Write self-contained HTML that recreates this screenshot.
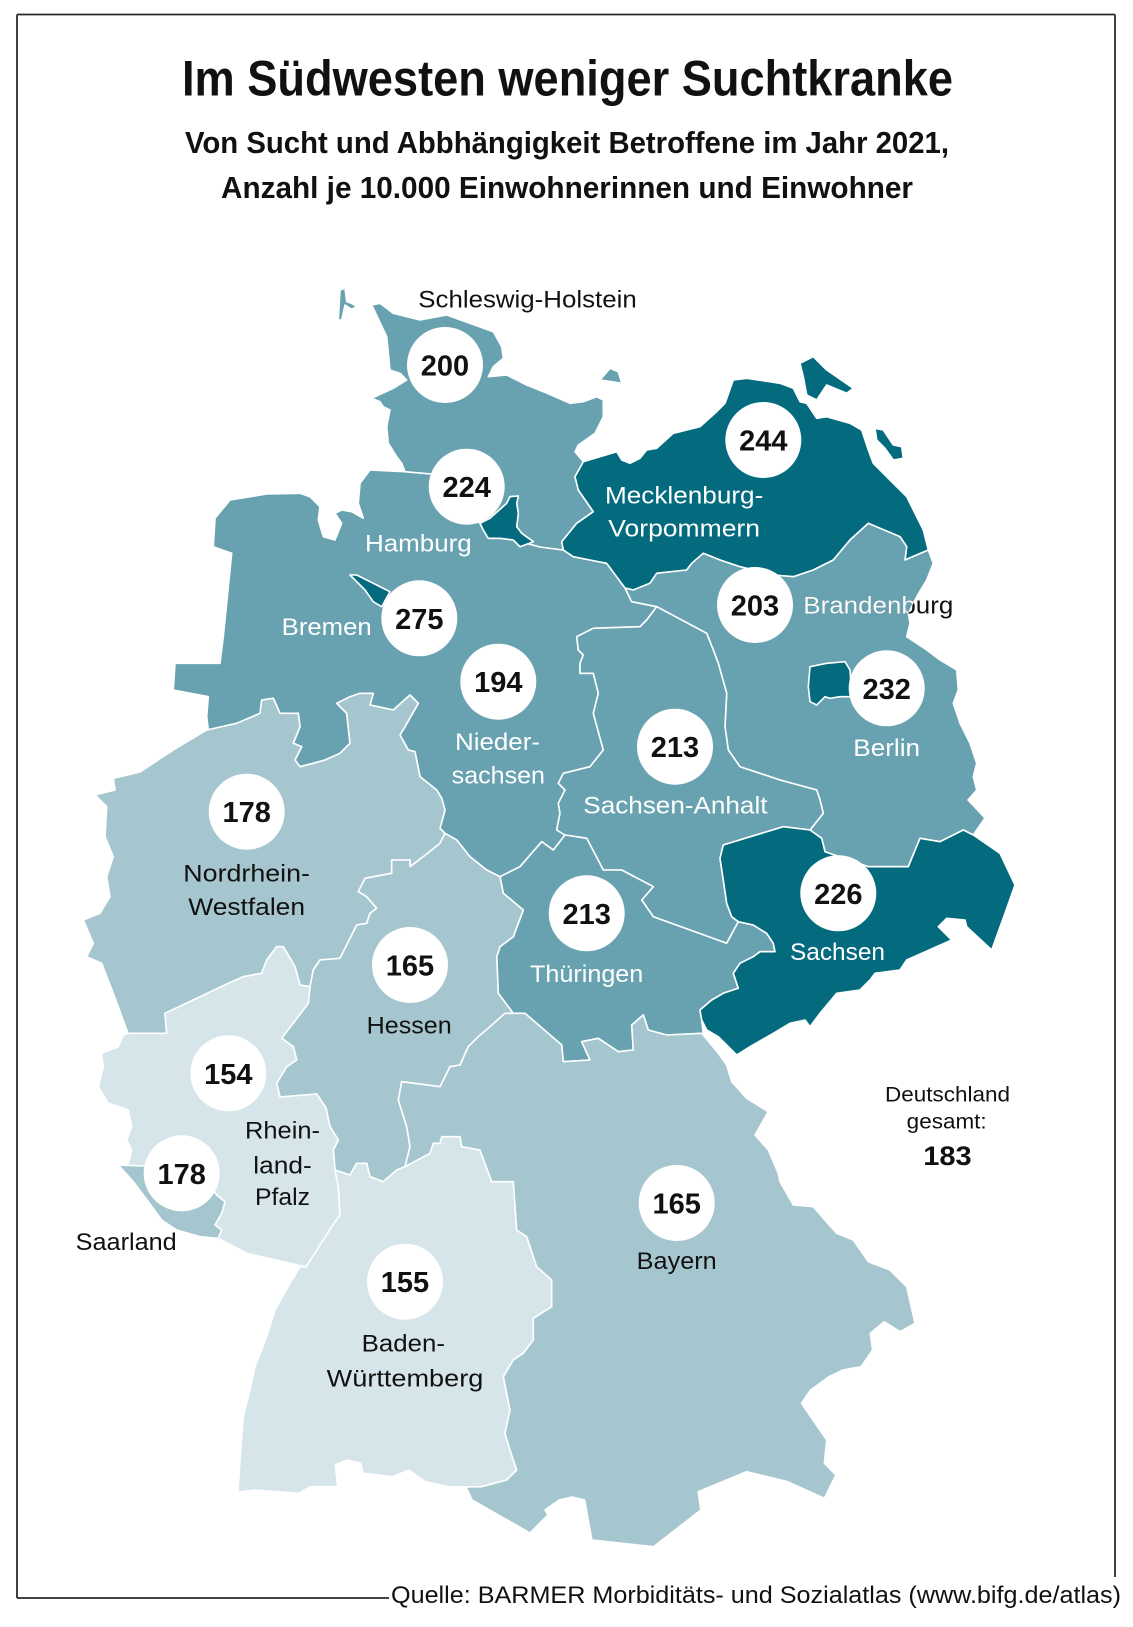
<!DOCTYPE html>
<html>
<head>
<meta charset="utf-8">
<style>
html,body{margin:0;padding:0;background:#fff;}
svg{display:block;}
text{font-family:"Liberation Sans","DejaVu Sans",sans-serif;}
.st{stroke:#fff;stroke-width:1.6;stroke-linejoin:round;}
.d{fill:#046b7e;}
.m{fill:#68a2b1;}
.l{fill:#a6c6cf;}
.ll{fill:#d6e5ea;}
.num{font-weight:bold;font-size:29px;fill:#111;text-anchor:middle;}
.lw{font-size:24px;fill:#fff;}
.lb{font-size:24px;fill:#111;}
</style>
</head>
<body>
<svg width="1133" height="1627" viewBox="0 0 1133 1627" xmlns="http://www.w3.org/2000/svg">
<defs>
<clipPath id="bbclip">
<polygon points="625,588 633.3,590 650,583.3 656.7,573.3 686.7,570 691.7,563.3 703.3,553.3 720,560 740,566.7 773.3,575 793.3,576.7 813.3,570 833.3,560 850,540 868.3,523.3 900,536.7 906.7,546.7 905,560 928.3,550 933.3,563.3 926.7,580 916.7,596.7 908.3,613.3 910,623.3 906.7,636.7 926.7,650 940,660 956.7,670 958.3,690 953.3,703.3 960,723.3 970,743.3 976.7,763.3 973.3,776.7 976.7,790 968,800 985,818 973.3,835 963.3,830 940,841.7 920,838.3 908.3,866.7 876.7,866.7 868.3,866.7 825,851.7 821.7,838.3 810,830 823.3,813.3 820,800 816.7,790 780,780 740,766.7 728.3,750 725,726.7 726.7,693.3 718.3,663.3 713.3,650 706.7,633.3 656.7,606.7 631.7,601.7"/>
</clipPath>
</defs>

<!-- frame -->
<g stroke="#2a2a2a" stroke-width="1.8" fill="none">
<line x1="17" y1="14.5" x2="1115" y2="14.5"/>
<line x1="17" y1="14.5" x2="17" y2="1598"/>
<line x1="17" y1="1598" x2="389" y2="1598"/>
<line x1="1115" y1="14.5" x2="1115" y2="1577"/>
</g>

<!-- titles -->
<text x="182" y="95.5" font-size="50" font-weight="bold" fill="#111" textLength="771" lengthAdjust="spacingAndGlyphs">Im Südwesten weniger Suchtkranke</text>
<text x="185" y="153" font-size="31" font-weight="bold" fill="#111" textLength="764" lengthAdjust="spacingAndGlyphs">Von Sucht und Abbhängigkeit Betroffene im Jahr 2021,</text>
<text x="221" y="198" font-size="31" font-weight="bold" fill="#111" textLength="692" lengthAdjust="spacingAndGlyphs">Anzahl je 10.000 Einwohnerinnen und Einwohner</text>

<!-- map -->
<g class="st">
<!-- Niedersachsen -->
<polygon class="m" points="405,471.7 370,470 360,483.3 358.3,503.3 363.3,518.3 351.7,511.7 341.7,510 335,513.3 341.7,523.3 335,540 323.3,536.7 318.3,520 320,506.7 310,496.7 300,493.3 266.7,494 230,500 215,518.3 213.3,546.7 231.7,553.3 226.7,603.3 223.3,636.7 220,663.3 175,663.3 173.3,690 208.3,696.7 206.7,716.7 208.3,730 236.7,723.3 260,713.3 261.7,700 273.3,698.3 280,713.3 298.3,713.3 300,726.7 293.3,743.3 301.7,746.7 295,760 300,766.7 313.3,763.3 325,760 340,753.3 350,743.3 346.7,713.3 336.7,703.3 350,696.7 360,693.3 373.3,693.3 370,705 393.3,710 410,695 418.3,703.3 405,726.7 400,735 408.3,750 415,751.7 420,776.7 436.7,790 441.7,798.3 445,810 440,828.3 445,833.3 456.7,840 470,856.7 486.7,870 500,876.7 513.3,870 520,866.7 541.7,841.7 553.3,850 565,835 556.7,830 560,813.3 558.3,803.3 565,790 558.3,783.3 563.3,773.3 590,766.7 603.3,750 593.3,713.3 598.3,693.3 593.3,673.3 580,673.3 580,663.3 583.3,655 578.3,650 576.7,636.7 593.3,628.3 640,626.7 646.7,620 656.7,606.7 631.7,601.7 625,588 606.7,563.3 590,560 573.3,556.7 563.3,550 540,547 526.7,543.3 520,546.7 513.3,540 500,538.3 488.3,538.3 483.3,530 480,523.3 431.7,474"/>
<!-- Schleswig-Holstein -->
<polygon class="m" points="371.7,305 380,303.3 393.3,313.3 420,320 446.7,315 493.3,331.7 501.7,346.7 503.3,358.3 493.3,366.7 488.3,376.7 506.7,375 526.7,385 543.3,391.7 570,403.3 583.3,401.7 596.7,396.7 603.3,400 603.3,416.7 595,433.3 578.3,445 575,451.7 583.3,461.7 575,476.7 578.3,490 593.3,511.7 576.7,523.3 561.7,541.7 563.3,550 540,547 526.7,543.3 533.3,541.7 521.7,533.3 516.7,526.7 518.3,513.3 516.7,503.3 518.3,496 510,496.7 506.7,503.3 490,518.3 480,523.3 431.7,474 405,471.7 401.7,463.3 396.7,456.7 388.3,443.3 386.7,426.7 390,410 383.3,406.7 380,401.7 371.7,398.3 393.3,388.3 406.7,380 400,373.3 390,370 386.7,336.7"/>
<polygon class="m" points="340,290 345,288.3 346.7,301.7 351.7,303.3 356.7,306.7 351.7,309.3 345,305 341.7,320 338.3,320"/>
<polygon class="m" points="600,380 610,368.3 618.3,371.7 621.7,383.3 611.7,381.7"/>
<!-- Mecklenburg-Vorpommern -->
<polygon class="d" points="583.3,461.7 616.7,451.7 621.7,460 630,463.3 640,458.3 646.7,450 656.7,448.3 673.3,433.3 700,426.7 715,413.3 725,403.3 733.3,380 746.7,378.3 780,383.3 793.3,388.3 800,401.7 806.7,403.3 816.7,418.3 826.7,416.7 850,423.3 861.7,430 868.3,450 873.3,463.3 890,480 906.7,496.7 923.3,530 928.3,550 905,560 906.7,546.7 900,536.7 868.3,523.3 850,540 833.3,560 813.3,570 793.3,576.7 773.3,575 740,566.7 720,560 703.3,553.3 691.7,563.3 686.7,570 656.7,573.3 650,583.3 633.3,590 625,588 606.7,563.3 590,560 573.3,556.7 563.3,550 561.7,541.7 576.7,523.3 593.3,511.7 578.3,490 575,476.7"/>
<polygon class="d" points="800,363.3 813.3,356.7 826.7,370 853.3,388.3 846.7,393.3 826.7,385 816.7,400 806.7,395 803.3,376.7"/>
<polygon class="d" points="875,428.3 883.3,430 893.3,445 901.7,446.7 903.3,458.3 893.3,460 885,448.3 876.7,440"/>
<!-- Brandenburg -->
<polygon class="m" points="625,588 633.3,590 650,583.3 656.7,573.3 686.7,570 691.7,563.3 703.3,553.3 720,560 740,566.7 773.3,575 793.3,576.7 813.3,570 833.3,560 850,540 868.3,523.3 900,536.7 906.7,546.7 905,560 928.3,550 933.3,563.3 926.7,580 916.7,596.7 908.3,613.3 910,623.3 906.7,636.7 926.7,650 940,660 956.7,670 958.3,690 953.3,703.3 960,723.3 970,743.3 976.7,763.3 973.3,776.7 976.7,790 968,800 985,818 973.3,835 963.3,830 940,841.7 920,838.3 908.3,866.7 876.7,866.7 868.3,866.7 825,851.7 821.7,838.3 810,830 823.3,813.3 820,800 816.7,790 780,780 740,766.7 728.3,750 725,726.7 726.7,693.3 718.3,663.3 713.3,650 706.7,633.3 656.7,606.7 631.7,601.7"/>
<!-- Sachsen-Anhalt -->
<polygon class="m" points="656.7,606.7 706.7,633.3 713.3,650 718.3,663.3 726.7,693.3 725,726.7 728.3,750 740,766.7 780,780 816.7,790 820,800 823.3,813.3 810,830 783.3,826.7 723.3,845 720,858.3 723.3,880 726.7,903.3 731.7,916.7 738.3,921.7 726.7,943.3 653.3,916.7 641.7,900 653.3,886.7 621.7,870 603.3,870 586.7,838.3 565,835 556.7,830 560,813.3 558.3,803.3 565,790 558.3,783.3 563.3,773.3 590,766.7 603.3,750 593.3,713.3 598.3,693.3 593.3,673.3 580,673.3 580,663.3 583.3,655 578.3,650 576.7,636.7 593.3,628.3 640,626.7 646.7,620"/>
<!-- Thüringen -->
<polygon class="m" points="565,835 586.7,838.3 603.3,870 621.7,870 653.3,886.7 641.7,900 653.3,916.7 726.7,943.3 738.3,921.7 753.3,925 766.7,933.3 773.3,943.3 775,951.7 760,951.7 753.3,956.7 740,963.3 733.3,973.3 738.3,988.3 723.3,993.3 711.7,1000 700,1010 701.7,1020 703.3,1033.3 666.7,1035 648.3,1030 643.3,1015 631.7,1025 633.3,1050 618.3,1051.7 598.3,1038.3 581.7,1041.7 590,1060 563.3,1061.7 561.7,1045 525,1013.3 513.3,1013.3 498.3,993.3 496.7,956.7 500,946.7 513.3,936.7 523.3,910 503.3,893.3 500,876.7 513.3,870 520,866.7 541.7,841.7 553.3,850"/>
<!-- Sachsen -->
<polygon class="d" points="723.3,845 783.3,826.7 810,830 821.7,838.3 825,851.7 868.3,866.7 876.7,866.7 908.3,866.7 920,838.3 940,841.7 963.3,830 973.3,835 1000,853.3 1015,885 1005,913.3 991.7,950 966.7,926.7 965,920 946.7,918.3 938.3,926.7 951.7,940 906.7,960 900,970 875,973.3 870,980 860,990 836.7,993.3 820,1013.3 810,1026.7 805,1020 790,1023.3 773.3,1033.3 750,1046.7 736.7,1055 725,1043.3 718.3,1036.7 706.7,1030 701.7,1020 700,1010 711.7,1000 723.3,993.3 738.3,988.3 733.3,973.3 740,963.3 753.3,956.7 760,951.7 775,951.7 773.3,943.3 766.7,933.3 753.3,925 738.3,921.7 731.7,916.7 726.7,903.3 723.3,880 720,858.3"/>
<!-- Nordrhein-Westfalen -->
<polygon class="l" points="113.3,778.3 140,772 173.3,750 206.7,730 236.7,723.3 260,713.3 261.7,700 273.3,698.3 280,713.3 298.3,713.3 300,726.7 293.3,743.3 301.7,746.7 295,760 300,766.7 313.3,763.3 325,760 340,753.3 350,743.3 346.7,713.3 336.7,703.3 350,696.7 360,693.3 373.3,693.3 370,705 393.3,710 410,695 418.3,703.3 405,726.7 400,735 408.3,750 415,751.7 420,776.7 436.7,790 441.7,798.3 445,810 440,828.3 445,833.3 440,843.3 423.3,856.7 410,866.7 410,860 391.7,860 391.7,873.3 365,878.3 358.3,891.7 366.7,896.7 376.7,908.3 370,913.3 366.7,923.3 356.7,925 340,958.3 320,960 313.3,970 310,986.7 300,985 295,966.7 283.3,946.7 276.7,946.7 266.7,960 261.7,973.3 243.3,976.7 228.3,983.3 196.7,998.3 165,1013.3 166.7,1033.3 128.3,1033.3 126.7,1030 113.3,993.3 106.7,976.7 101.7,963.3 86.7,956.7 93.3,943.3 83.3,920 100,913.3 110,896.7 106.7,876.7 113.3,856.7 105,836.7 106.7,806.7 95,795 115,790"/>
<!-- Hessen -->
<polygon class="l" points="445,833.3 456.7,840 470,856.7 486.7,870 500,876.7 503.3,893.3 523.3,910 513.3,936.7 500,946.7 496.7,956.7 498.3,993.3 513.3,1013.3 505,1013.3 490,1026.7 478.3,1036.7 468.3,1046.7 460,1065 450,1066.7 440,1086.7 401.7,1081.7 398.3,1100 406.7,1126.7 410,1146.7 405,1166.7 396.7,1170 383.3,1181.7 370,1176.7 366.7,1163.3 356.7,1163.3 350,1175 335,1170 333.3,1150 338.3,1140 330,1126.7 326,1108 316.7,1094 280,1097 276.7,1083.3 286.7,1066.7 296.7,1060 293.3,1046.7 281.7,1038.3 308.3,1003.3 310,986.7 313.3,970 320,960 340,958.3 356.7,925 366.7,923.3 370,913.3 376.7,908.3 366.7,896.7 358.3,891.7 365,878.3 391.7,873.3 391.7,860 410,860 410,866.7 423.3,856.7 440,843.3"/>
<!-- Rheinland-Pfalz -->
<polygon class="ll" points="128.3,1033.3 166.7,1033.3 165,1013.3 196.7,998.3 228.3,983.3 243.3,976.7 261.7,973.3 266.7,960 276.7,946.7 283.3,946.7 295,966.7 300,985 310,986.7 308.3,1003.3 281.7,1038.3 293.3,1046.7 296.7,1060 286.7,1066.7 276.7,1083.3 280,1097 316.7,1094 326,1108 330,1126.7 338.3,1140 333.3,1150 335,1170 338.3,1186.7 340,1215 331.7,1226.7 306,1267 246.7,1253.3 218.3,1238.3 221.7,1230 215,1225 221.7,1213.3 225,1201.7 216.7,1195 200,1172 165,1165 143.3,1166 118.3,1165 128.3,1163.3 131.7,1150 126.7,1140 131.7,1126.7 128.3,1110 108.3,1103.3 98.3,1086.7 103.3,1066.7 101.7,1053.3 118.3,1046.7 123.3,1035"/>
<!-- Saarland -->
<polygon class="l" points="118.3,1165 143.3,1166 165,1165 200,1172 216.7,1195 225,1201.7 221.7,1213.3 215,1225 221.7,1230 218.3,1238.3 200,1236.7 176.7,1230 161.7,1220 148.3,1201.7 133.3,1181.7"/>
<!-- Baden-Württemberg -->
<polygon class="ll" points="335,1170 350,1175 356.7,1163.3 366.7,1163.3 370,1176.7 383.3,1181.7 396.7,1170 405,1166.7 430,1153.3 433.3,1143.3 440,1143.3 441.7,1136.7 460,1136.7 461.7,1146.7 480,1150 491.7,1181.7 513.3,1181.7 516.7,1230 526.7,1236.7 536.7,1266.7 551.7,1280 551.7,1306.7 533.3,1318.3 533.3,1340 523.3,1353.3 513.3,1360 503.3,1376.7 510,1410 505,1433.3 510,1450 516.7,1470 506.7,1480 481.7,1486.7 466,1487 447.9,1486.7 425,1481.7 408.9,1470 392.8,1476.7 363,1473.3 360.7,1463.3 346.9,1460 335.4,1465 337.7,1486.7 310.2,1486.7 298.7,1493.3 255.1,1490 238,1492 240,1460 243.3,1416.7 250,1390 255,1366.7 266.7,1336.7 275,1310 290,1283.3 300,1266.7 306,1267 331.7,1226.7 340,1215 338.3,1186.7"/>
<!-- Bayern -->
<polygon class="l" points="701.7,1033.3 718.3,1053.3 726.7,1065 731.7,1081.7 746.7,1098.3 768.3,1111.7 755,1135 768.3,1150 778.3,1173.3 780,1181.7 793.3,1205 813.3,1206.7 836.7,1233.3 853.3,1240 868.3,1261.7 890,1270 906.7,1286.7 915,1323.3 900.2,1331.7 884.1,1321.7 870.3,1333.3 872.6,1350 861.2,1366.7 842.8,1370 829,1376.7 810.6,1390 801.5,1403.3 815.2,1423.3 826.7,1440 824.4,1463.3 835.9,1475 824.4,1498.3 787.7,1481.7 746.4,1471.7 698.2,1491.7 700.8,1510 653.6,1546.7 591.9,1540 584.6,1500 572,1497 559,1500 545,1510 548,1515 530,1533 472,1500 466,1487 481.7,1486.7 506.7,1480 516.7,1470 510,1450 505,1433.3 510,1410 503.3,1376.7 513.3,1360 523.3,1353.3 533.3,1340 533.3,1318.3 551.7,1306.7 551.7,1280 536.7,1266.7 526.7,1236.7 516.7,1230 513.3,1181.7 491.7,1181.7 480,1150 461.7,1146.7 460,1136.7 441.7,1136.7 440,1143.3 433.3,1143.3 430,1153.3 405,1166.7 410,1146.7 406.7,1126.7 398.3,1100 401.7,1081.7 440,1086.7 450,1066.7 460,1065 468.3,1046.7 478.3,1036.7 490,1026.7 505,1013.3 513.3,1013.3 525,1013.3 561.7,1045 563.3,1061.7 590,1060 581.7,1041.7 598.3,1038.3 618.3,1051.7 633.3,1050 631.7,1025 643.3,1015 648.3,1030 666.7,1035"/>
<!-- Hamburg -->
<polygon class="d" points="480,523.3 490,518.3 506.7,503.3 510,496.7 518.3,496 516.7,503.3 518.3,513.3 516.7,526.7 521.7,533.3 533.3,541.7 520,546.7 513.3,540 500,538.3 488.3,538.3 483.3,530"/>
<!-- Bremen -->
<polygon class="d" points="350,575 356.7,575 373.3,583.3 390,591.7 381.7,606.7 373.3,601.7 365,590"/>
<!-- Berlin -->
<polygon class="d" points="810,666.7 826.7,663.3 845,661.7 850,670 851.7,696.7 840,696.7 830,698.3 825,696.7 816.7,705 810,701.7 808.3,686.7"/>
</g>

<!-- circles -->
<g fill="#fff">
<circle cx="445" cy="365" r="38"/>
<circle cx="466.7" cy="486.7" r="38"/>
<circle cx="419.3" cy="618.3" r="38"/>
<circle cx="498.3" cy="681.7" r="38"/>
<circle cx="763.3" cy="440" r="38"/>
<circle cx="755" cy="605" r="38"/>
<circle cx="886.7" cy="688.3" r="38"/>
<circle cx="675" cy="746.7" r="38"/>
<circle cx="246.7" cy="811.7" r="38"/>
<circle cx="410" cy="965" r="38"/>
<circle cx="228.3" cy="1073.3" r="38"/>
<circle cx="181.7" cy="1173.3" r="38"/>
<circle cx="586.7" cy="913.3" r="38"/>
<circle cx="838.3" cy="893.3" r="38"/>
<circle cx="676.7" cy="1203" r="38"/>
<circle cx="405" cy="1281.7" r="38"/>
</g>

<!-- numbers -->
<text class="num" x="445" y="375.5">200</text>
<text class="num" x="466.7" y="497.2">224</text>
<text class="num" x="419.3" y="628.8">275</text>
<text class="num" x="498.3" y="692.2">194</text>
<text class="num" x="763.3" y="450.5">244</text>
<text class="num" x="755" y="615.5">203</text>
<text class="num" x="886.7" y="698.8">232</text>
<text class="num" x="675" y="757.2">213</text>
<text class="num" x="246.7" y="822.2">178</text>
<text class="num" x="410" y="975.5">165</text>
<text class="num" x="228.3" y="1083.8">154</text>
<text class="num" x="181.7" y="1183.8">178</text>
<text class="num" x="586.7" y="923.8">213</text>
<text class="num" x="838.3" y="903.8">226</text>
<text class="num" x="676.7" y="1213.5">165</text>
<text class="num" x="405" y="1292.2">155</text>

<!-- labels -->
<text class="lb" x="418.3" y="307.3" textLength="218.4" lengthAdjust="spacingAndGlyphs">Schleswig-Holstein</text>
<text class="lw" x="365" y="551.7" textLength="106.7" lengthAdjust="spacingAndGlyphs">Hamburg</text>
<text class="lw" x="281.7" y="635" textLength="90" lengthAdjust="spacingAndGlyphs">Bremen</text>
<text class="lw" x="455" y="750" textLength="85" lengthAdjust="spacingAndGlyphs">Nieder-</text>
<text class="lw" x="451.7" y="783.3" textLength="93.3" lengthAdjust="spacingAndGlyphs">sachsen</text>
<text class="lw" x="605" y="503.3" textLength="158.3" lengthAdjust="spacingAndGlyphs">Mecklenburg-</text>
<text class="lw" x="608.3" y="536.7" textLength="151.7" lengthAdjust="spacingAndGlyphs">Vorpommern</text>
<text class="lb" x="803.3" y="613.5" textLength="150" lengthAdjust="spacingAndGlyphs">Brandenburg</text>
<text class="lw" x="803.3" y="613.5" textLength="150" lengthAdjust="spacingAndGlyphs" clip-path="url(#bbclip)">Brandenburg</text>
<text class="lw" x="853.3" y="756" textLength="66.7" lengthAdjust="spacingAndGlyphs">Berlin</text>
<text class="lw" x="583.3" y="813.3" textLength="184.2" lengthAdjust="spacingAndGlyphs">Sachsen-Anhalt</text>
<text class="lw" x="530" y="982" textLength="113.3" lengthAdjust="spacingAndGlyphs">Thüringen</text>
<text class="lw" x="790" y="960" textLength="95" lengthAdjust="spacingAndGlyphs">Sachsen</text>
<text class="lb" x="636.7" y="1269" textLength="80" lengthAdjust="spacingAndGlyphs">Bayern</text>
<text class="lb" x="183.3" y="881.7" textLength="126.7" lengthAdjust="spacingAndGlyphs">Nordrhein-</text>
<text class="lb" x="188.3" y="915" textLength="116.7" lengthAdjust="spacingAndGlyphs">Westfalen</text>
<text class="lb" x="366.7" y="1033.3" textLength="85" lengthAdjust="spacingAndGlyphs">Hessen</text>
<text class="lb" x="245" y="1138.3" textLength="75" lengthAdjust="spacingAndGlyphs">Rhein-</text>
<text class="lb" x="253.3" y="1173.3" textLength="58.4" lengthAdjust="spacingAndGlyphs">land-</text>
<text class="lb" x="255" y="1205" textLength="55" lengthAdjust="spacingAndGlyphs">Pfalz</text>
<text class="lb" x="75.7" y="1250" textLength="101" lengthAdjust="spacingAndGlyphs">Saarland</text>
<text class="lb" x="361.7" y="1351.7" textLength="83.3" lengthAdjust="spacingAndGlyphs">Baden-</text>
<text class="lb" x="326.7" y="1386.7" textLength="156.6" lengthAdjust="spacingAndGlyphs">Württemberg</text>

<text x="885" y="1101.7" font-size="21" fill="#111" textLength="125" lengthAdjust="spacingAndGlyphs">Deutschland</text>
<text x="906.7" y="1128.3" font-size="21" fill="#111" textLength="80" lengthAdjust="spacingAndGlyphs">gesamt:</text>
<text x="923.3" y="1165" font-size="27" font-weight="bold" fill="#111" textLength="48.4" lengthAdjust="spacingAndGlyphs">183</text>

<!-- source -->
<text x="391" y="1603" font-size="24" fill="#111" textLength="730" lengthAdjust="spacingAndGlyphs">Quelle: BARMER Morbiditäts- und Sozialatlas (www.bifg.de/atlas)</text>
</svg>
</body>
</html>
